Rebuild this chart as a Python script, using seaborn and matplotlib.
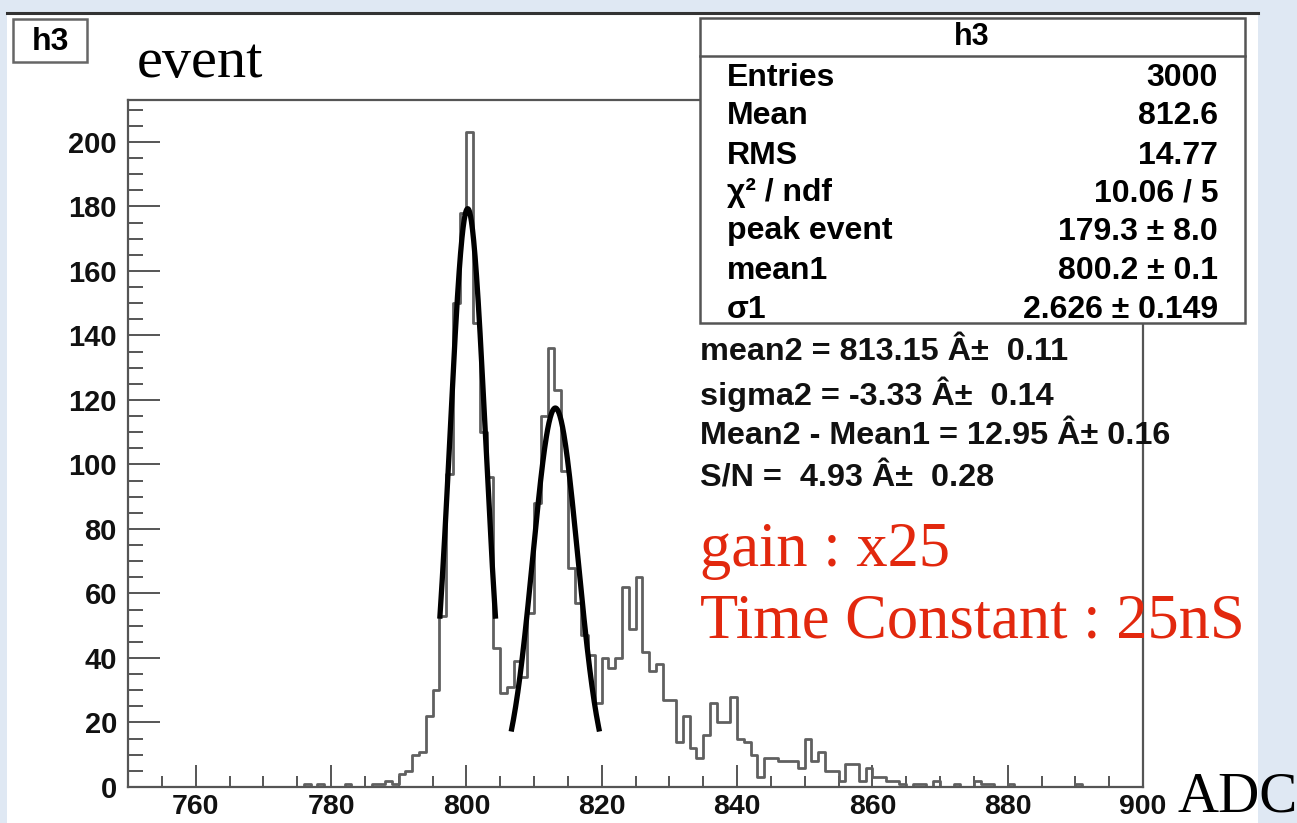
import numpy as np
import pandas as pd
import seaborn as sns
import matplotlib
matplotlib.use("Agg")
import matplotlib.pyplot as plt
from matplotlib.patches import Rectangle
from matplotlib.lines import Line2D
from matplotlib.ticker import MultipleLocator

# ---------------- data ----------------
adc_first_bin = 750          # left edge of first bin, bin width 1 ADC
counts_750_799 = [0, 0, 0, 0, 0, 0, 0, 0, 0, 0,
                  0, 0, 0, 0, 0, 0, 0, 0, 0, 0,
                  0, 0, 0, 0, 0, 0, 1, 0, 1, 0,
                  0, 0, 1, 0, 0, 0, 1, 1, 2, 1,
                  4, 5, 10, 11, 22, 30, 53, 97, 150, 178]
counts_800_849 = [203, 144, 110, 96, 43, 29, 31, 39, 34, 54,
                  88, 115, 136, 123, 98, 68, 57, 47, 41, 26,
                  40, 37, 40, 62, 49, 65, 42, 36, 38, 27,
                  27, 14, 22, 12, 9, 16, 26, 20, 20, 28,
                  15, 14, 10, 3, 9, 9, 8, 8, 8, 6]
counts_850_899 = [15, 8, 11, 5, 5, 2, 7, 7, 2, 6,
                  3, 3, 2, 2, 1, 0, 1, 1, 0, 2,
                  0, 0, 1, 0, 0, 2, 1, 1, 0, 0,
                  1, 0, 0, 0, 0, 0, 0, 0, 0, 0,
                  1, 0, 0, 0, 0, 0, 0, 0, 0, 0]

fit1_amp, fit1_mean, fit1_sigma, fit1_range = 179.3, 800.2, 2.626, (796.1, 804.3)
fit2_amp, fit2_mean, fit2_sigma, fit2_range = 117.5, 813.15, 3.33, (806.7, 819.6)

stats_title = "h3"
stats_labels = ["Entries", "Mean", "RMS", "χ² / ndf", "peak event", "mean1", "σ1"]
stats_values = ["3000", "812.6", "14.77", "10.06 / 5", "179.3 ± 8.0", "800.2 ± 0.1", "2.626 ± 0.149"]
extra_lines = ["mean2 = 813.15 Â±  0.11",
               "sigma2 = -3.33 Â±  0.14",
               "Mean2 - Mean1 = 12.95 Â± 0.16",
               "S/N =  4.93 Â±  0.28"]
red_lines = ["gain : x25", "Time Constant : 25nS"]

# ---------------- figure ----------------
W, H = 1297, 823
fig = plt.figure(figsize=(W / 100, H / 100), dpi=100)
fig.patch.set_facecolor("#dfe8f3")
plt.rcParams["font.family"] = ["Liberation Sans", "DejaVu Sans"]
SERIF = ["Liberation Serif", "DejaVu Serif"]


def fx(x):
    return x / W


def fy(y):
    return 1 - y / H


# white canvas with top border (behind the axes)
fig.patches.append(Rectangle((fx(7), 0), fx(1258) - fx(7), fy(13), transform=fig.transFigure,
                             facecolor="white", edgecolor="none", zorder=-2))
fig.lines.append(Line2D([fx(7), fx(1258)], [fy(13), fy(13)], transform=fig.transFigure,
                        color="#333333", lw=2.2, zorder=-1))

ax = fig.add_axes([fx(128), fy(787), fx(1143) - fx(128), fy(100) - fy(787)])
ax.set_facecolor("white")

counts = np.array(counts_750_799 + counts_800_849 + counts_850_899, dtype=float)
centers = adc_first_bin + np.arange(len(counts)) + 0.5
df = pd.DataFrame({"adc": centers, "n": counts})

sns.histplot(data=df, x="adc", weights="n", binwidth=1,
             binrange=(adc_first_bin, adc_first_bin + len(counts)),
             element="step", fill=False, color="#606060", linewidth=2.0, ax=ax)

for amp, mu, sg, rng in [(fit1_amp, fit1_mean, fit1_sigma, fit1_range),
                         (fit2_amp, fit2_mean, fit2_sigma, fit2_range)]:
    xs = np.linspace(rng[0], rng[1], 200)
    ys = amp * np.exp(-0.5 * ((xs - mu) / sg) ** 2)
    sns.lineplot(x=xs, y=ys, color="black", linewidth=3.8, ax=ax)

ax.set_xlim(750, 900)
ax.set_ylim(0, 213)
ax.set_xlabel("")
ax.set_ylabel("")
ax.xaxis.set_major_locator(MultipleLocator(20))
ax.xaxis.set_minor_locator(MultipleLocator(5))
ax.yaxis.set_major_locator(MultipleLocator(20))
ax.yaxis.set_minor_locator(MultipleLocator(5))
ax.tick_params(axis="x", which="major", direction="in", length=16, width=1.4, color="#555555",
               labelsize=20.5, pad=5)
ax.tick_params(axis="x", which="minor", direction="in", length=8, width=1.4, color="#555555")
ax.tick_params(axis="y", which="major", direction="in", length=23, width=1.4, color="#555555",
               labelsize=21, pad=8)
ax.tick_params(axis="y", which="minor", direction="in", length=11, width=1.4, color="#555555")
for lab in ax.get_xticklabels() + ax.get_yticklabels():
    lab.set_fontweight("bold")
    lab.set_color("#111111")
for sp in ax.spines.values():
    sp.set_color("#555555")
    sp.set_linewidth(1.6)

# "h3" title box
fig.patches.append(Rectangle((fx(13), fy(62)), fx(87) - fx(13), fy(19) - fy(62), transform=fig.transFigure,
                             facecolor="white", edgecolor="#666666", lw=1.8, zorder=5))
fig.text(fx(50), fy(42), "h3", ha="center", va="center", fontsize=23, fontweight="bold", zorder=6)

# y-axis title
fig.text(fx(137), fy(77), "event", ha="left", va="baseline", fontsize=42, family=SERIF, color="black")
# x-axis title
fig.text(fx(1177), fy(812), "ADC", ha="left", va="baseline", fontsize=41, family=SERIF,
         color="black", zorder=10)

# stats box
fig.patches.append(Rectangle((fx(700), fy(323)), fx(1245) - fx(700), fy(18) - fy(323),
                             transform=fig.transFigure, facecolor="white", edgecolor="#555555",
                             lw=1.8, zorder=5))
fig.lines.append(Line2D([fx(700), fx(1245)], [fy(56), fy(56)], transform=fig.transFigure,
                        color="#555555", lw=1.8, zorder=6))
fig.text(fx(972), fy(37), stats_title, ha="center", va="center", fontsize=22, fontweight="bold", zorder=7)
row_y = [75, 113, 152, 190, 228, 268, 307]
for yy, lab, val in zip(row_y, stats_labels, stats_values):
    fig.text(fx(727), fy(yy), lab, ha="left", va="center_baseline", fontsize=23, fontweight="bold", zorder=7)
    fig.text(fx(1218), fy(yy), val, ha="right", va="center_baseline", fontsize=23, fontweight="bold", zorder=7)

for yy, line in zip([348, 391, 433, 475], extra_lines):
    fig.text(fx(700), fy(yy), line, ha="left", va="center_baseline", fontsize=23.3, fontweight="bold",
             color="#111111", zorder=7)

for yb, line in zip([566, 637], red_lines):
    fig.text(fx(700), fy(yb), line, ha="left", va="baseline", fontsize=45, family=SERIF,
             color="#e2280e", zorder=8)

fig.savefig("out.png", dpi=100, facecolor=fig.get_facecolor())
